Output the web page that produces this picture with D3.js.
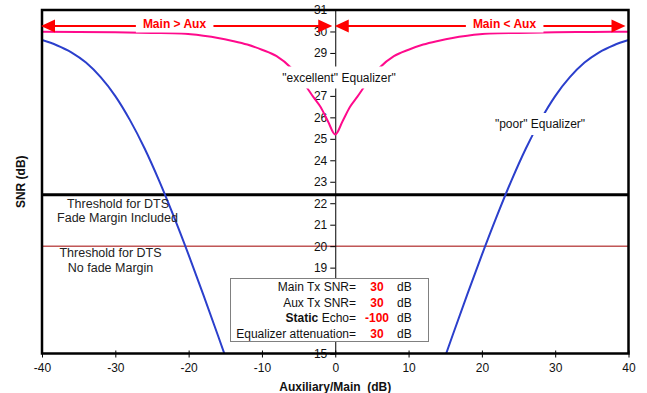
<!DOCTYPE html>
<html><head><meta charset="utf-8">
<script src="https://cdn.jsdelivr.net/npm/d3@7"></script>
<style>
html,body{margin:0;padding:0;background:#fff;}
svg{display:block;font-family:"Liberation Sans",Arial,sans-serif;}
</style></head>
<body>
<svg id="chart" width="647" height="393"></svg>
<script>
// ---- data ----
const xTicks = [-40, -30, -20, -10, 0, 10, 20, 30, 40];
const yTicks = [15, 16, 17, 18, 19, 20, 21, 22, 23, 24, 25, 26, 27, 28, 29, 30, 31];
// tick labels that are visible (16-18 and 28 are covered by the boxes in the reference)
const yTickLabelsShown = [15, 19, 20, 21, 22, 23, 24, 25, 26, 27, 29, 30, 31];

const excellentX   = [-40, -35, -30, -25, -21, -18, -16, -14, -12, -10, -8, -6, -5, -4, -3, -2, -1, 0,
                      1, 2, 3, 4, 5, 6, 8, 10, 12, 14, 16, 18, 21, 25, 30, 35, 40];
const excellentSNR = [29.99, 29.98, 29.96, 29.93, 29.9, 29.8, 29.7, 29.56, 29.39, 29.15, 28.85, 28.3, 27.9, 27.45, 26.95, 26.48, 25.82, 25.2,
                      25.82, 26.48, 26.95, 27.45, 27.9, 28.3, 28.85, 29.15, 29.39, 29.56, 29.7, 29.8, 29.9, 29.93, 29.96, 29.98, 29.99];

const poorLeftX    = [-40, -38, -36, -34, -32, -30, -28, -26, -24, -22, -20, -18, -16, -15];
const poorLeftSNR  = [29.6, 29.36, 29.03, 28.55, 27.87, 26.99, 25.87, 24.55, 23.03, 21.36, 19.59, 17.74, 15.84, 14.87];
const poorRightX   = [15, 16, 18, 20, 22, 24, 26, 28, 30, 32, 34, 36, 38, 40];
const poorRightSNR = [14.87, 15.84, 17.74, 19.59, 21.36, 23.03, 24.55, 25.87, 26.99, 27.87, 28.55, 29.03, 29.36, 29.6];

const thresholdFade = 22.4;
const thresholdNoFade = 20;

const paramLabels = ["Main Tx SNR=", "Aux Tx SNR=", "Static Echo=", "Equalizer attenuation="];
const paramValues = ["30", "30", "-100", "30"];
const paramUnits  = ["dB", "dB", "dB", "dB"];

// ---- drawing ----
const svg = d3.select("#chart");
const x = d3.scaleLinear().domain([-40, 40]).range([42, 628.5]);
const y = d3.scaleLinear().domain([15, 31]).range([353.5, 10]);

svg.append("rect").attr("width", 647).attr("height", 393).attr("fill", "#fff");

svg.append("clipPath").attr("id", "plotclip").append("rect")
  .attr("x", x(-40)).attr("y", y(31)).attr("width", x(40) - x(-40)).attr("height", y(15) - y(31));

// threshold lines
svg.append("line").attr("x1", x(-40)).attr("x2", x(40))
  .attr("y1", y(thresholdNoFade)).attr("y2", y(thresholdNoFade))
  .attr("stroke", "#a00000").attr("stroke-width", 1);
svg.append("line").attr("x1", x(-40)).attr("x2", x(40))
  .attr("y1", y(thresholdFade)).attr("y2", y(thresholdFade))
  .attr("stroke", "#000").attr("stroke-width", 3);

// y axis at x = 0
const yAxis = svg.append("g").attr("transform", `translate(${x(0)},0)`)
  .call(d3.axisLeft(y).tickValues(yTicks).tickSize(5).tickPadding(3)
    .tickFormat(d => yTickLabelsShown.includes(d) ? String(d) : ""));
yAxis.select(".domain").attr("stroke", "#000");
yAxis.selectAll(".tick line").attr("stroke", "#000");
yAxis.selectAll(".tick text").attr("font-size", 12).attr("fill", "#111")
  .attr("font-family", "Liberation Sans, Arial, sans-serif");

// curves
const lineGen = d3.line().x(d => x(d[0])).y(d => y(d[1])).curve(d3.curveMonotoneX);
const plotG = svg.append("g").attr("clip-path", "url(#plotclip)");
plotG.append("path").datum(d3.zip(poorLeftX, poorLeftSNR)).attr("d", lineGen)
  .attr("fill", "none").attr("stroke", "#2b3fcc").attr("stroke-width", 2);
plotG.append("path").datum(d3.zip(poorRightX, poorRightSNR)).attr("d", lineGen)
  .attr("fill", "none").attr("stroke", "#2b3fcc").attr("stroke-width", 2);
plotG.append("path").datum(d3.zip(excellentX, excellentSNR)).attr("d", lineGen)
  .attr("fill", "none").attr("stroke", "#ff0a8c").attr("stroke-width", 2);

// x axis (bottom)
const xAxis = svg.append("g").attr("transform", `translate(0,${y(15)})`)
  .call(d3.axisBottom(x).tickValues(xTicks).tickSize(4).tickPadding(6).tickFormat(d => String(d)));
xAxis.select(".domain").remove();
xAxis.selectAll(".tick line").attr("stroke", "#000").attr("y1", -3);
xAxis.selectAll(".tick text").attr("font-size", 12).attr("fill", "#111")
  .attr("font-family", "Liberation Sans, Arial, sans-serif");

// frame
svg.append("rect").attr("x", x(-40)).attr("y", y(31))
  .attr("width", x(40) - x(-40)).attr("height", y(15) - y(31))
  .attr("fill", "none").attr("stroke", "#000").attr("stroke-width", 2.5);

// helper: text with white background
function labelWithBg(cx, cy, txt, opts) {
  const g = svg.append("g");
  const bg = g.append("rect").attr("fill", "#fff");
  const t = g.append("text").attr("x", cx).attr("y", cy + 4.3)
    .attr("text-anchor", "middle").attr("font-size", opts.size || 12)
    .attr("font-weight", opts.weight || "normal").attr("fill", opts.color || "#111")
    .style("white-space", "pre").text(txt);
  const b = t.node().getBBox();
  bg.attr("x", b.x - opts.padX).attr("width", b.width + 2 * opts.padX)
    .attr("y", cy - opts.padY).attr("height", 2 * opts.padY);
  return g;
}

// curve labels
labelWithBg(339, 77.5, "\"excellent\" Equalizer\"", {padX: 3, padY: 11});
labelWithBg(540, 124, "\"poor\" Equalizer\"", {padX: 3, padY: 11});

// threshold labels
[["Threshold for DTS", 118, 203.5], ["Fade Margin Included", 117.5, 217.5],
 ["Threshold for DTS", 110.5, 253], ["No fade Margin", 110.5, 267.5]].forEach(([t, cx, cy]) => {
  svg.append("text").attr("x", cx).attr("y", cy + 4.3).attr("text-anchor", "middle")
    .attr("font-size", 12.5).attr("fill", "#222").text(t);
});

// arrows
const arrowY = y(30.25);
const red = "#ff0000";
function arrow(x1, x2) {
  svg.append("line").attr("x1", x1 + 5).attr("x2", x2 - 5).attr("y1", arrowY).attr("y2", arrowY)
    .attr("stroke", red).attr("stroke-width", 2);
  svg.append("path").attr("d", `M${x1},${arrowY} L${x1 + 14},${arrowY - 6.5} L${x1 + 14},${arrowY + 6.5} Z`).attr("fill", red);
  svg.append("path").attr("d", `M${x2},${arrowY} L${x2 - 14},${arrowY - 6.5} L${x2 - 14},${arrowY + 6.5} Z`).attr("fill", red);
}
arrow(x(-40) - 1, x(0) - 3);
arrow(x(0) - 0.5, x(40) - 3);
labelWithBg(174.5, 23.5, "Main > Aux", {padX: 7, padY: 9, weight: "bold", color: red, size: 12});
labelWithBg(504.5, 23.5, "Main < Aux", {padX: 7, padY: 9, weight: "bold", color: red, size: 12});

// parameter box
svg.append("rect").attr("x", 230.5).attr("y", 278.5).attr("width", 198).attr("height", 63)
  .attr("fill", "#fff").attr("stroke", "#808080").attr("stroke-width", 1);
const rowY = [286.7, 302.3, 317.7, 333.3];
paramLabels.forEach((lab, i) => {
  const t = svg.append("text").attr("x", 356).attr("y", rowY[i] + 4.3).attr("text-anchor", "end")
    .attr("font-size", 12).attr("fill", "#111");
  if (lab.startsWith("Static")) {
    t.append("tspan").attr("font-weight", "bold").text("Static");
    t.append("tspan").text(lab.slice(6));
  } else {
    t.text(lab);
  }
  svg.append("text").attr("x", 377).attr("y", rowY[i] + 4.3).attr("text-anchor", "middle")
    .attr("font-size", 12).attr("font-weight", "bold").attr("fill", red).text(paramValues[i]);
  svg.append("text").attr("x", 397).attr("y", rowY[i] + 4.3)
    .attr("font-size", 12).attr("fill", "#111").text(paramUnits[i]);
});

// axis titles
svg.append("text").attr("x", x(0)).attr("y", 391).attr("text-anchor", "middle")
  .attr("font-size", 12).attr("font-weight", "bold").attr("fill", "#111")
  .style("white-space", "pre").text("Auxiliary/Main  (dB)");
svg.append("text").attr("transform", `translate(24.5,${(y(15) + y(31)) / 2}) rotate(-90)`)
  .attr("text-anchor", "middle").attr("font-size", 12).attr("font-weight", "bold").attr("fill", "#111")
  .text("SNR (dB)");
</script>
</body></html>
